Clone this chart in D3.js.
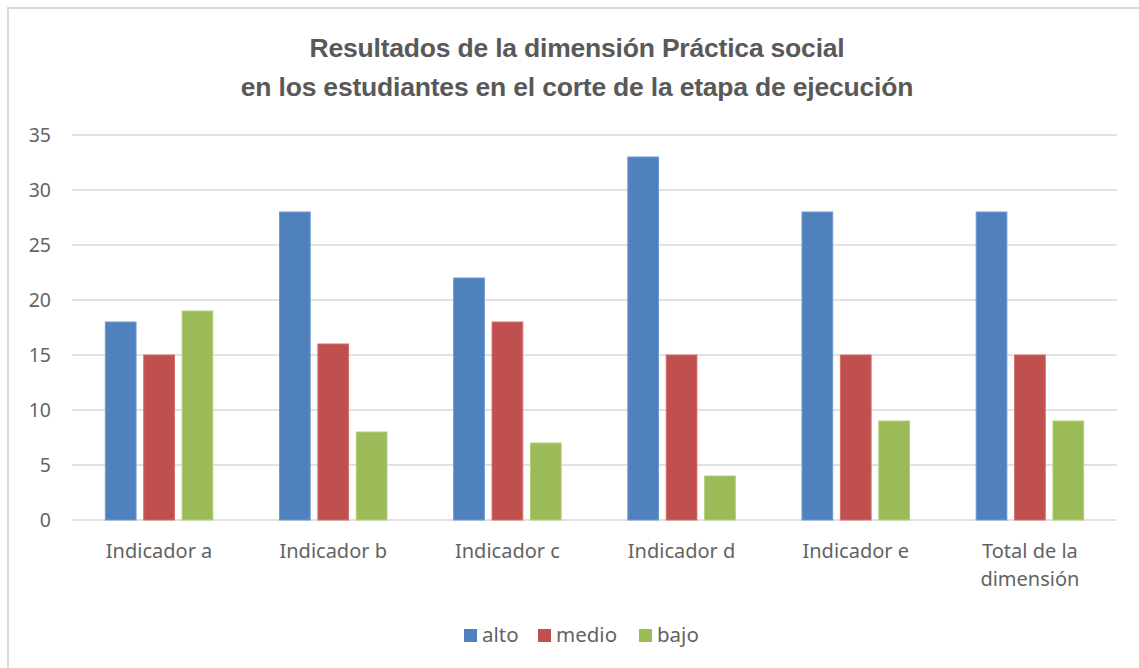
<!DOCTYPE html>
<html>
<head>
<meta charset="utf-8">
<script src="https://cdn.jsdelivr.net/npm/d3@7"></script>
<style>
  body { margin: 0; background: #ffffff; }
  text { font-family: "Noto Sans", "Open Sans", sans-serif; fill: #636363; }
</style>
</head>
<body>
<div id="chart"></div>
<script>

// Data.
const CATEGORIES = ["Indicador a", "Indicador b", "Indicador c", "Indicador d", "Indicador e", "Total de la dimensión"];
const SERIES = ["alto", "medio", "bajo"];
const ALTO = [18, 28, 22, 33, 28, 28];
const MEDIO = [15, 16, 18, 15, 15, 15];
const BAJO = [19, 8, 7, 4, 9, 9];
const Y_TICKS = [0, 5, 10, 15, 20, 25, 30, 35];
const TITLE_LINES = ["Resultados de la dimensión Práctica social", "en los estudiantes en el corte de la etapa de ejecución"];

const WIDTH = 1139;
const HEIGHT = 668;

// Plot area.
const PLOT = {'left': 72, 'right': 1117, 'top': 135, 'bottom': 520};
const COLORS = ["#4f81bd", "#c0504d", "#9bbb59"];
const EDGES = ["#6f9ad0", "#d46e6b", "#b3cf7b"];

window.onload = function() {

    var svg = d3.select("#chart").append("svg")
                .attr("width", WIDTH)
                .attr("height", HEIGHT);

    // chart border
    svg.append("rect")
       .attr("x", 8).attr("y", 8)
       .attr("width", WIDTH + 20).attr("height", HEIGHT + 20)
       .attr("fill", "none")
       .attr("stroke", "#d9d9d9")
       .attr("stroke-width", 2);

    // title
    svg.append("g").selectAll("text")
       .data(TITLE_LINES)
       .enter()
       .append("text")
       .attr("x", 577)
       .attr("y", function (d, i) { return 57 + i * 39; })
       .attr("text-anchor", "middle")
       .style("font-family", "'Liberation Sans', Arial, sans-serif")
       .style("font-weight", "bold")
       .style("font-size", "26.5px")
       .style("letter-spacing", "-0.2px")
       .style("fill", "#595959")
       .text(function (d) { return d; });

    var y = d3.scaleLinear().domain([0, 35]).range([PLOT.bottom, PLOT.top]);

    var x0 = d3.scaleBand().domain(CATEGORIES).range([PLOT.left, PLOT.right]).padding(0);
    var groupW = 107.5;
    var x1 = d3.scaleBand().domain(SERIES)
               .range([(x0.bandwidth() - groupW) / 2, (x0.bandwidth() + groupW) / 2])
               .paddingInner(0.2);

    // gridlines
    svg.append("g").selectAll("line")
       .data(Y_TICKS)
       .enter()
       .append("line")
       .attr("x1", PLOT.left).attr("x2", PLOT.right)
       .attr("y1", function (d) { return y(d); })
       .attr("y2", function (d) { return y(d); })
       .attr("stroke", "#d9d9d9")
       .attr("stroke-width", 1.5);

    // y axis labels
    var yAxis = d3.axisLeft(y).tickValues(Y_TICKS).tickSize(0).tickPadding(0);
    var ya = svg.append("g")
                .attr("transform", "translate(51,0)")
                .call(yAxis);
    ya.select(".domain").remove();
    ya.selectAll("text")
      .style("font-family", "'Noto Sans', sans-serif")
      .style("font-size", "19.5px")
      .attr("fill", "#636363")
      .attr("dy", "0.35em");

    // bars
    var data = CATEGORIES.map(function (c, i) {
        return {'cat': c, 'vals': [ALTO[i], MEDIO[i], BAJO[i]]};
    });

    var groups = svg.append("g").selectAll("g")
                    .data(data)
                    .enter()
                    .append("g")
                    .attr("transform", function (d) { return "translate(" + x0(d.cat) + ",0)"; });

    groups.selectAll("rect")
          .data(function (d) { return d.vals.map(function (v, j) { return {'s': SERIES[j], 'v': v, 'j': j}; }); })
          .enter()
          .append("rect")
          .attr("x", function (d) { return x1(d.s); })
          .attr("y", function (d) { return y(d.v); })
          .attr("width", x1.bandwidth())
          .attr("height", function (d) { return y(0) - y(d.v); })
          .attr("fill", function (d) { return COLORS[d.j]; })
          .attr("stroke", function (d) { return EDGES[d.j]; })
          .attr("stroke-width", 1);

    // x axis labels (wrapped)
    var labels = svg.append("g").selectAll("text")
                    .data(CATEGORIES)
                    .enter()
                    .append("text")
                    .attr("text-anchor", "middle")
                    .style("font-size", "20px")
                    .attr("x", function (d) { return x0(d) + x0.bandwidth() / 2; })
                    .attr("y", 558);

    labels.each(function (d) {
        var t = d3.select(this);
        var lines = d === "Total de la dimensión" ? ["Total de la", "dimensión"] : [d];
        lines.forEach(function (l, i) {
            t.append("tspan")
             .attr("x", x0(d) + x0.bandwidth() / 2)
             .attr("dy", i === 0 ? 0 : 28)
             .text(l);
        });
    });

    // legend
    var legendX = [464, 538, 639];
    var leg = svg.append("g").selectAll("g")
                 .data(SERIES)
                 .enter()
                 .append("g")
                 .attr("transform", function (d, i) { return "translate(" + legendX[i] + ",629)"; });

    leg.append("rect")
       .attr("width", 13).attr("height", 13)
       .attr("fill", function (d, i) { return COLORS[i]; });

    leg.append("text")
       .attr("x", 18)
       .attr("y", 12.5)
       .style("font-size", "20.5px")
       .text(function (d) { return d; });
};

</script>
</body>
</html>
